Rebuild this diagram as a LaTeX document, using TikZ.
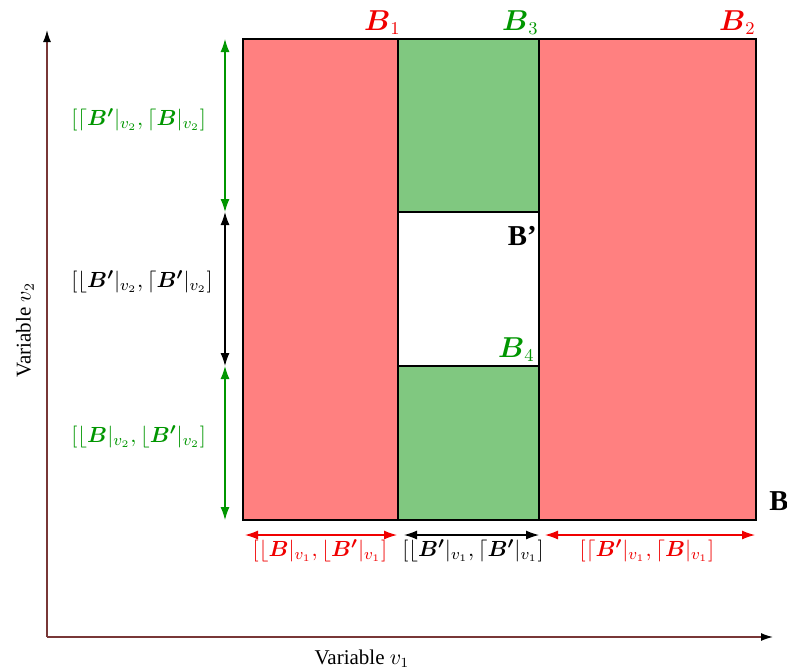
\documentclass[tikz,border=0pt]{standalone}
\usepackage{amsmath}
\usepackage{fontspec}
\setmainfont{Liberation Serif}
\usetikzlibrary{arrows.meta}
\definecolor{redfill}{RGB}{255,128,128}
\definecolor{greenfill}{RGB}{128,200,128}
\definecolor{redtext}{RGB}{240,0,0}
\definecolor{greentext}{RGB}{0,150,0}
\definecolor{axiscol}{RGB}{120,55,55}
\tikzset{
  axis/.style={draw=axiscol, line width=0.7pt, -{Latex[length=6pt,width=4pt,color=black]}},
  dim/.style={line width=0.6pt, {Latex[length=6.5pt,width=4.5pt]}-{Latex[length=6.5pt,width=4.5pt]}},
  region/.style={draw=black, line width=0.6pt},
  dimlabel/.style={font=\fontsize{10.9}{12}\selectfont, inner sep=1pt},
  boxlabel/.style={font=\fontsize{13.5}{15}\selectfont, inner sep=0pt},
}
\begin{document}
\begin{tikzpicture}[x=0.5pt, y=-0.5pt]
\useasboundingbox (0,0) rectangle (787,671);
% coordinates
\coordinate (o) at (47,637);
\coordinate (ytop) at (47,30);
\coordinate (xend) at (773,637);
% regions
\fill[redfill] (243,39) rectangle (398,520);
\fill[redfill] (539,39) rectangle (756,520);
\fill[greenfill] (398,39) rectangle (539,212);
\fill[greenfill] (398,366) rectangle (539,520);
\draw[region] (243,39) rectangle (756,520);
\draw[region] (398,39) -- (398,520);
\draw[region] (539,39) -- (539,520);
\draw[region] (398,212) -- (539,212);
\draw[region] (398,366) -- (539,366);
% axes
\draw[axis] (o) -- (ytop);
\draw[axis] (o) -- (xend);
\node[font=\fontsize{10.5}{12}\selectfont, anchor=base] (xl) at (362,664) {Variable $v_1$};
\node[font=\fontsize{10.5}{12}\selectfont, rotate=90] (yl) at (25,330) {Variable $v_2$};
% region labels
\node[boxlabel, text=redtext, anchor=base east] (b1) at (401,30) {$\boldsymbol{B}_1$};
\node[boxlabel, text=greentext, anchor=base east] (b3) at (539,30) {$\boldsymbol{B}_3$};
\node[boxlabel, text=redtext, anchor=base east] (b2) at (756,30) {$\boldsymbol{B}_2$};
\node[boxlabel, text=greentext, anchor=base east] (b4) at (535,357) {$\boldsymbol{B}_4$};
\node[font=\fontsize{14.4}{16}\selectfont\bfseries, inner sep=0pt, anchor=base east] (bp) at (537,245) {B’};
\node[font=\fontsize{14.4}{16}\selectfont\bfseries, inner sep=0pt, anchor=base west] (bb) at (769,510) {B};
% left dimension arrows
\coordinate (l0) at (225,39);
\coordinate (l1) at (225,212);
\coordinate (l2) at (225,366);
\coordinate (l3) at (225,520);
\draw[dim, greentext] (l0) -- (l1);
\draw[dim, black] (l1) -- (l2);
\draw[dim, greentext] (l2) -- (l3);
\node[dimlabel, text=greentext, anchor=west] (t1) at (69,120) {$[\lceil\boldsymbol{B'}|_{v_2},\lceil\boldsymbol{B}|_{v_2}]$};
\node[dimlabel, text=black, anchor=west] (t2) at (69,282) {$[\lfloor\boldsymbol{B'}|_{v_2},\lceil\boldsymbol{B'}|_{v_2}]$};
\node[dimlabel, text=greentext, anchor=west] (t3) at (69,437) {$[\lfloor\boldsymbol{B}|_{v_2},\lfloor\boldsymbol{B'}|_{v_2}]$};
% bottom dimension arrows
\coordinate (d0) at (245,535);
\coordinate (d1) at (397,535);
\coordinate (d2) at (404,535);
\coordinate (d3) at (539,535);
\coordinate (d4) at (545,535);
\coordinate (d5) at (755,535);
\draw[dim, redtext] (d0) -- (d1);
\draw[dim, black] (d2) -- (d3);
\draw[dim, redtext] (d4) -- (d5);
\node[dimlabel, text=redtext] (s1) at (320,551) {$[\lfloor\boldsymbol{B}|_{v_1},\lfloor\boldsymbol{B'}|_{v_1}]$};
\node[dimlabel, text=black] (s2) at (473,551) {$[\lfloor\boldsymbol{B'}|_{v_1},\lceil\boldsymbol{B'}|_{v_1}]$};
\node[dimlabel, text=redtext] (s3) at (647,551) {$[\lceil\boldsymbol{B'}|_{v_1},\lceil\boldsymbol{B}|_{v_1}]$};
\end{tikzpicture}
\end{document}
